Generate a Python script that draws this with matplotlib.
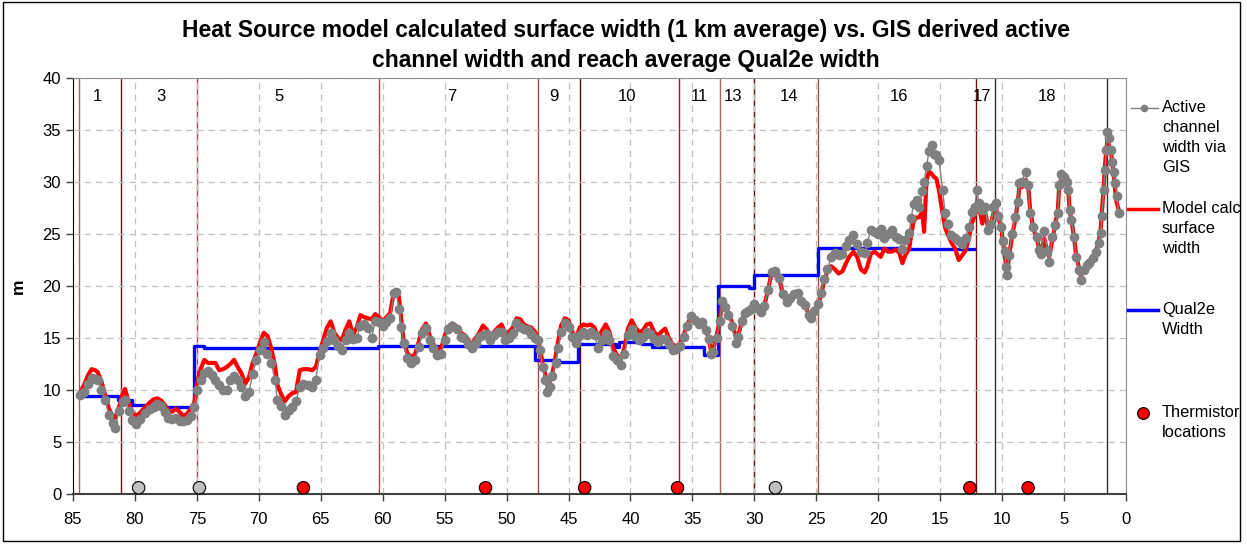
import numpy as np
import matplotlib
matplotlib.use("Agg")
import matplotlib.pyplot as plt
from matplotlib.lines import Line2D
from matplotlib.patches import Rectangle

plt.rcParams["font.family"] = ["Liberation Sans", "DejaVu Sans"]

# river km (downstream = 0) with GIS active channel width and model surface width, m
km = [84.4, 84.1, 83.8, 83.5, 83.2, 83.0, 82.7, 82.4, 82.1, 81.8, 81.6, 81.3, 81.0, 80.8,
      80.5, 80.2, 79.9, 79.6, 79.2, 78.8, 78.5, 78.2, 77.9, 77.6, 77.3, 77.0, 76.7, 76.4,
      76.1, 75.8, 75.5, 75.2, 75.0, 74.7, 74.4, 74.1, 73.8, 73.5, 73.2, 72.9, 72.6, 72.3,
      72.0, 71.7, 71.4, 71.1, 70.8, 70.5, 70.2, 69.9, 69.6, 69.3, 69.0, 68.7, 68.5, 68.2,
      67.9, 67.6, 67.3, 67.0, 66.7, 66.4, 66.0, 65.7, 65.4, 65.1, 64.8, 64.5, 64.2, 63.9,
      63.6, 63.3, 63.0, 62.7, 62.4, 62.1, 61.8, 61.5, 61.2, 60.9, 60.6, 60.3, 60.0, 59.7,
      59.4, 59.1, 58.9, 58.7, 58.5, 58.3, 58.0, 57.7, 57.4, 57.1, 56.8, 56.5, 56.2, 55.9,
      55.6, 55.3, 55.0, 54.7, 54.4, 54.0, 53.7, 53.4, 53.1, 52.8, 52.5, 52.2, 51.9, 51.6,
      51.3, 51.0, 50.7, 50.4, 50.1, 49.8, 49.5, 49.2, 48.9, 48.6, 48.3, 48.0, 47.7, 47.5,
      47.3, 47.1, 46.9, 46.75, 46.5, 46.3, 46.05, 45.85, 45.6, 45.3, 45.0, 44.7, 44.4, 44.1,
      43.8, 43.5, 43.2, 42.9, 42.6, 42.3, 42.0, 41.7, 41.4, 41.1, 40.8, 40.5, 40.2, 39.9,
      39.6, 39.3, 39.0, 38.7, 38.4, 38.1, 37.8, 37.5, 37.2, 36.9, 36.6, 36.3, 36.0, 35.7,
      35.4, 35.1, 34.8, 34.5, 34.2, 33.9, 33.7, 33.5, 33.3, 33.05, 32.8, 32.6, 32.4, 32.1,
      31.8, 31.5, 31.3, 31.0, 30.75, 30.5, 30.3, 30.0, 29.8, 29.5, 29.2, 28.9, 28.6, 28.3,
      28.0, 27.7, 27.4, 27.1, 26.8, 26.5, 26.2, 25.9, 25.6, 25.4, 25.2, 24.9, 24.6, 24.4,
      24.1, 23.8, 23.5, 23.2, 22.9, 22.6, 22.35, 22.0, 21.7, 21.4, 21.1, 20.9, 20.6, 20.3,
      20.0, 19.8, 19.5, 19.2, 18.9, 18.6, 18.3, 18.05, 17.8, 17.5, 17.35, 17.15, 16.9, 16.7,
      16.45, 16.3, 16.1, 15.9, 15.7, 15.5, 15.3, 15.1, 14.8, 14.6, 14.4, 14.1, 13.8, 13.5,
      13.2, 12.95, 12.7, 12.45, 12.2, 12.05, 11.85, 11.6, 11.35, 11.15, 10.9, 10.7, 10.5, 10.3,
      10.05, 9.95, 9.8, 9.7, 9.6, 9.45, 9.2, 8.95, 8.75, 8.6, 8.4, 8.1, 7.9, 7.75,
      7.5, 7.2, 7.0, 6.85, 6.6, 6.35, 6.2, 5.95, 5.7, 5.5, 5.4, 5.25, 5.0, 4.8,
      4.65, 4.55, 4.4, 4.2, 4.0, 3.8, 3.65, 3.4, 3.15, 2.95, 2.7, 2.4, 2.2, 2.05,
      1.95, 1.8, 1.7, 1.6, 1.5, 1.35, 1.25, 1.1, 1.0, 0.9, 0.75, 0.6]

gis_width = [9.5, 9.8, 10.6, 11.2, 11.1, 11.0, 10.0, 9.0, 7.6, 6.8, 6.3, 8.0, 8.8, 9.0,
             8.0, 7.1, 6.7, 7.2, 7.8, 8.2, 8.4, 8.7, 8.5, 7.9, 7.3, 7.2, 7.3, 7.0,
             7.0, 7.1, 7.5, 8.4, 10.0, 11.0, 11.6, 11.8, 11.4, 11.0, 10.5, 10.0, 10.0, 11.0,
             11.3, 11.0, 10.3, 9.4, 9.8, 11.5, 12.9, 13.8, 14.6, 13.5, 12.6, 11.0, 9.0, 8.5,
             7.6, 8.1, 8.4, 8.9, 10.3, 10.6, 10.5, 10.3, 11.0, 13.4, 14.0, 14.7, 15.5, 14.8,
             14.2, 13.8, 14.8, 15.5, 14.9, 15.0, 16.2, 16.3, 16.0, 15.0, 16.6, 16.5, 16.2, 16.5,
             16.9, 19.3, 19.4, 17.8, 16.1, 14.5, 13.1, 12.6, 12.9, 14.1, 15.5, 16.0, 14.8, 14.0,
             13.4, 13.5, 14.8, 15.9, 16.2, 15.9, 15.1, 15.0, 14.4, 14.0, 14.5, 15.1, 15.3, 15.4,
             14.8, 15.3, 15.6, 15.6, 14.8, 15.0, 15.5, 16.4, 16.1, 15.9, 15.8, 15.4, 15.0, 14.8,
             13.8, 12.2, 11.0, 9.8, 10.3, 11.3, 12.6, 14.0, 15.6, 16.4, 16.1, 15.1, 14.5, 15.3,
             15.6, 15.3, 15.6, 15.3, 14.0, 14.8, 15.4, 14.8, 13.3, 12.9, 12.4, 13.5, 15.3, 15.9,
             15.2, 14.8, 15.1, 15.6, 15.4, 14.9, 14.6, 14.9, 14.9, 14.4, 13.8, 13.9, 14.2, 15.1,
             16.2, 17.1, 16.7, 16.3, 16.5, 15.8, 14.9, 13.5, 13.7, 15.0, 16.6, 18.6, 18.0, 17.2,
             16.2, 14.5, 15.1, 16.6, 17.4, 17.6, 17.8, 18.3, 17.9, 17.5, 18.1, 19.6, 21.3, 21.4,
             20.8, 19.2, 18.5, 18.8, 19.2, 19.3, 18.6, 18.2, 17.2, 16.9, 17.6, 18.3, 19.3, 20.7,
             21.6, 22.8, 23.2, 23.0, 23.1, 23.8, 24.4, 24.9, 24.0, 23.3, 23.2, 24.1, 25.4, 25.2,
             25.0, 25.5, 24.6, 25.0, 25.4, 24.7, 24.5, 23.6, 24.4, 25.1, 26.5, 27.9, 28.3, 27.6,
             29.1, 30.0, 31.5, 33.0, 33.6, 32.7, 32.6, 32.1, 29.2, 27.0, 26.0, 24.9, 24.6, 24.3,
             24.0, 24.6, 25.7, 27.1, 27.6, 29.2, 28.0, 27.3, 27.6, 25.4, 26.0, 27.6, 28.0, 26.7,
             25.7, 24.3, 23.4, 21.8, 21.1, 23.0, 25.0, 26.6, 28.1, 29.9, 30.0, 31.0, 29.7, 27.0,
             25.7, 24.7, 23.5, 23.1, 25.3, 23.4, 22.3, 24.7, 25.9, 27.0, 29.7, 30.8, 30.5, 30.0,
             29.2, 27.3, 26.3, 24.7, 22.8, 21.5, 20.6, 21.5, 22.0, 22.2, 22.7, 23.3, 24.1, 25.1,
             26.7, 29.2, 31.2, 33.1, 34.8, 34.2, 33.1, 31.9, 31.0, 29.9, 28.7, 27.0]

model_width = [9.8, 10.5, 11.4, 12.0, 11.9, 11.7, 10.8, 9.5, 8.2, 7.5, 7.3, 8.3, 9.6, 10.1,
               8.8, 7.8, 7.5, 7.8, 8.3, 8.8, 9.1, 9.2, 9.0, 8.6, 8.0, 7.9, 8.2, 7.9,
               7.5, 7.7, 8.2, 8.8, 10.6, 12.0, 12.9, 12.6, 12.6, 12.6, 11.9, 12.0, 12.2, 12.5,
               12.9, 12.2, 11.6, 10.6, 11.2, 12.6, 13.5, 14.6, 15.5, 15.2, 14.0, 12.4, 10.5, 9.6,
               8.9, 9.4, 9.7, 9.8, 11.9, 12.0, 12.0, 11.9, 12.2, 13.6, 14.8, 16.0, 16.6, 15.5,
               15.0, 14.8, 15.8, 16.6, 15.3, 16.0, 17.2, 17.0, 16.9, 16.8, 17.3, 17.0, 16.6, 17.0,
               17.4, 19.4, 19.5, 19.0, 16.8, 14.6, 13.5, 13.2, 13.4, 14.6, 15.9, 16.4, 15.2, 14.4,
               13.9, 13.9, 15.2, 16.1, 16.4, 16.1, 15.5, 15.3, 14.8, 14.4, 15.0, 15.5, 16.2, 15.8,
               15.2, 15.6, 16.0, 16.3, 15.4, 15.6, 16.0, 16.9, 16.8, 16.3, 16.1, 16.0, 15.6, 15.0,
               14.0, 12.6, 11.6, 10.6, 10.8, 11.6, 13.2, 14.6, 16.2, 16.9, 16.7, 15.6, 14.9, 16.0,
               16.3, 16.2, 16.3, 16.0, 15.0, 15.7, 16.3, 15.6, 14.0, 13.4, 12.9, 14.0, 15.9, 16.7,
               16.0, 15.6, 15.7, 16.3, 16.4, 15.6, 15.2, 15.6, 15.9, 15.0, 14.4, 14.2, 14.5, 15.3,
               16.3, 17.1, 16.8, 16.4, 16.6, 15.8, 15.0, 13.8, 14.0, 15.2, 16.6, 18.7, 18.2, 17.4,
               16.5, 15.1, 15.2, 16.7, 17.5, 17.7, 17.9, 18.3, 17.9, 17.5, 18.1, 19.6, 21.3, 21.4,
               20.8, 19.2, 18.5, 18.8, 19.2, 19.3, 18.6, 18.2, 17.2, 16.9, 17.6, 18.0, 19.2, 20.3,
               21.5, 21.9, 21.6, 21.2, 21.4, 22.2, 22.8, 23.3, 22.8, 21.6, 21.3, 21.8, 23.1, 23.3,
               23.0, 22.8, 23.6, 23.3, 23.3, 23.5, 23.2, 22.2, 23.0, 23.6, 24.8, 26.2, 26.6, 26.6,
               27.1, 25.2, 30.2, 31.0, 30.8, 30.5, 30.3, 29.2, 27.0, 25.6, 25.0, 24.2, 23.6, 22.5,
               23.0, 23.4, 24.5, 26.0, 26.8, 27.3, 27.5, 26.0, 27.0, 25.7, 26.0, 27.0, 27.5, 26.5,
               25.6, 24.3, 23.3, 22.0, 21.3, 22.8, 24.8, 26.3, 27.9, 29.6, 29.5, 30.2, 29.7, 27.5,
               25.6, 24.6, 23.5, 23.3, 24.6, 23.3, 22.8, 24.4, 26.0, 27.3, 29.5, 30.2, 30.0, 29.8,
               29.0, 27.3, 26.3, 24.7, 22.8, 21.8, 21.0, 21.6, 22.2, 22.4, 22.8, 23.4, 24.3, 25.4,
               27.0, 29.5, 31.5, 33.0, 34.0, 33.5, 33.0, 32.0, 30.8, 29.5, 28.0, 27.4]

# Qual2e reach-average width (step breakpoints, value holds until next km)
q2e_km = [84.5, 81.4, 80.2, 77.7, 75.2, 74.4, 70.4, 60.4, 47.7, 45.8, 44.2, 41.2, 40.9,
          39.05, 38.25, 34.1, 32.9, 30.4, 30.0, 24.9, 18.2, 12.3]
q2e_width = [9.4, 9.0, 8.6, 8.4, 14.2, 14.05, 14.0, 14.25, 12.9, 12.65, 14.4, 14.1, 14.6,
             14.4, 14.1, 13.4, 20.0, 19.8, 21.05, 23.7, 23.55, 23.55]

# thermistor locations
therm_km = [79.7, 74.8, 66.4, 51.7, 43.7, 36.2, 28.3, 12.6, 7.9]
therm_color = ["#c0c0c0", "#c0c0c0", "#ff0000", "#ff0000", "#ff0000", "#ff0000",
               "#c0c0c0", "#ff0000", "#ff0000"]

# reach boundaries and labels
bound_km = [84.5, 81.1, 75.0, 60.3, 47.5, 44.1, 36.1, 32.8, 30.0, 24.9, 12.1, 10.6, 1.5]
bound_col = ["#b06060", "#7a1010", "#a04848", "#a04848", "#a04848", "#5a0a0a", "#8a2020",
             "#b06060", "#5a0a0a", "#a04848", "#7a1010", "#303030", "#303030"]
reach_names = ["1", "3", "5", "7", "9", "10", "11", "13", "14", "16", "17", "18"]
reach_km = [83.0, 77.9, 68.4, 54.4, 46.2, 40.3, 34.4, 31.7, 27.2, 18.3, 11.6, 6.4]

W, H = 1247, 544


def fx(px):
    return px / W


def fy(py):
    return 1 - py / H


fig = plt.figure(figsize=(12.47, 5.44), dpi=100)
ax = fig.add_axes([fx(73), fy(494), fx(1126) - fx(73), fy(78) - fy(494)])

for k, c in zip(bound_km, bound_col):
    ax.axvline(k, color=c, lw=1.0, zorder=1)

ax.step(q2e_km, q2e_width, where="post", color="#0000ff", lw=2.4, zorder=3)
ax.plot(km, model_width, color="#ff0000", lw=3.0, zorder=4)
ax.plot(km, gis_width, color="#808080", lw=1.0, marker="o", ms=6, mec="#808080",
        mfc="#808080", zorder=5)
ax.scatter(therm_km, [0.6] * len(therm_km), s=80, c=therm_color, edgecolors="black",
           linewidths=0.8, zorder=6, clip_on=False)

for name, k in zip(reach_names, reach_km):
    ax.text(k, 38.2, name, ha="center", va="center", fontsize=12)

ax.set_xlim(85, 0)
ax.set_ylim(0, 40)
ax.set_xticks(np.arange(0, 86, 5))
ax.set_yticks(np.arange(0, 41, 5))
ax.grid(True, color="#c0c0c0", linestyle=(0, (5, 4)), lw=0.9)
ax.tick_params(labelsize=12, length=5, direction="out", width=1, color="#404040")
ax.tick_params(axis="x", pad=8)
ax.set_ylabel("m", fontsize=12.5, fontweight="bold", labelpad=12)

for side in ["top", "right"]:
    ax.spines[side].set_color("#909090")
ax.spines["left"].set_color("black")
ax.spines["bottom"].set_color("#404040")
ax.spines["bottom"].set_linewidth(1.5)

fig.text(fx(626), fy(31), "Heat Source model calculated surface width (1 km average) vs. GIS derived active",
         ha="center", va="center", fontsize=16.5, fontweight="bold")
fig.text(fx(626), fy(61), "channel width and reach average Qual2e width",
         ha="center", va="center", fontsize=16.5, fontweight="bold")

# legend drawn by hand so the text runs off the chart edge like the original
fig.add_artist(Line2D([fx(1131), fx(1158)], [fy(108), fy(108)], color="#808080", lw=1,
                      transform=fig.transFigure))
fig.add_artist(Line2D([fx(1144)], [fy(108)], color="#808080", marker="o", ms=4.5,
                      transform=fig.transFigure))
fig.add_artist(Line2D([fx(1128), fx(1158)], [fy(209), fy(209)], color="#ff0000", lw=2.5,
                      transform=fig.transFigure))
fig.add_artist(Line2D([fx(1128), fx(1158)], [fy(310), fy(310)], color="#0000ff", lw=2.5,
                      transform=fig.transFigure))
fig.add_artist(Line2D([fx(1143)], [fy(413)], color="#ff0000", marker="o", ms=8.5, mec="black",
                      mew=0.8, transform=fig.transFigure))

leg_text = [("Active\nchannel\nwidth via\nGIS", 100), ("Model calc\nsurface\nwidth", 201),
            ("Qual2e\nWidth", 302), ("Thermistor\nlocations", 405)]
for txt, py in leg_text:
    fig.text(fx(1162), fy(py), txt, ha="left", va="top", fontsize=11.8, linespacing=1.42)

fig.add_artist(Rectangle((fx(3), fy(541)), fx(1240) - fx(3), fy(2) - fy(541), fill=False,
                         edgecolor="black", lw=1, transform=fig.transFigure))

fig.savefig("out.png", dpi=100)
